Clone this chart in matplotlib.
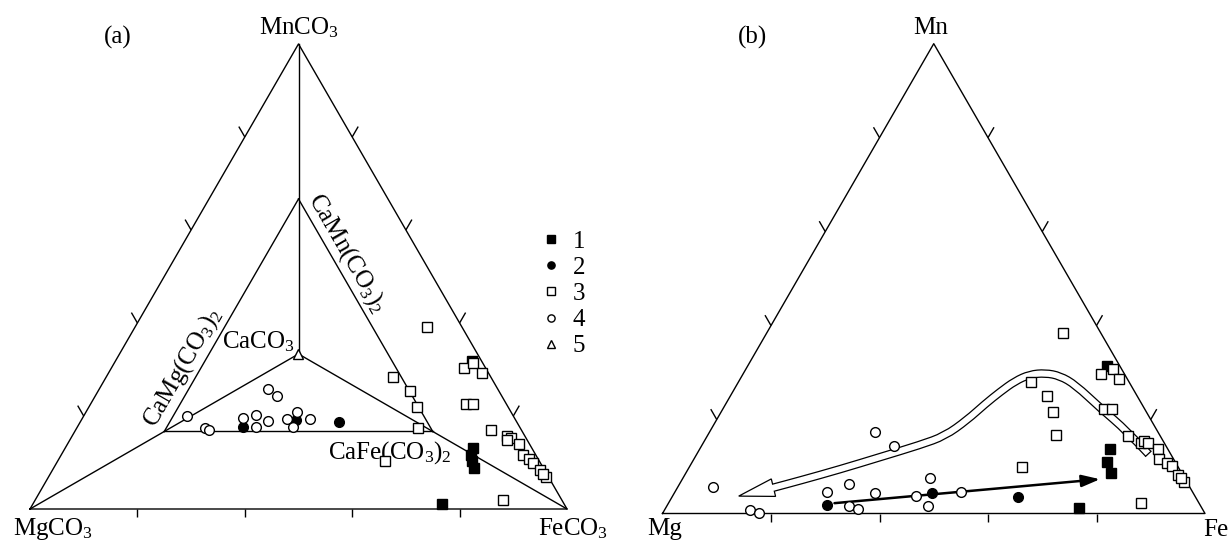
import numpy as np
import matplotlib
matplotlib.use("Agg")
import matplotlib.pyplot as plt
from matplotlib.path import Path
from matplotlib.patches import PathPatch, Polygon
from matplotlib.lines import Line2D

plt.rcParams['font.family'] = ['Liberation Serif', 'DejaVu Serif']
plt.rcParams['mathtext.fontset'] = 'custom'
plt.rcParams['mathtext.rm'] = 'Liberation Serif'
plt.rcParams['mathtext.it'] = 'Liberation Serif:italic'
plt.rcParams['mathtext.bf'] = 'Liberation Serif:bold'

W_PX, H_PX = 1230, 542
R3 = np.sqrt(3) / 2
TICKS = [0.2, 0.4, 0.6, 0.8]
LEGEND_LABELS = ['1', '2', '3', '4', '5']

# compositions as (Fe, Mn) fractions, Mg = 1 - Fe - Mn
# (a) MgCO3 - FeCO3 - MnCO3, CaCO3 projected to the centre
a1_fe = [0.663, 0.759, 0.763, 0.772, 0.783, 0.761]
a1_mn = [0.319, 0.131, 0.116, 0.103, 0.088, 0.011]
a2_fe = [0.309, 0.400, 0.482]
a2_mn = [0.176, 0.191, 0.187]
a3_fe = [0.543, 0.534, 0.580, 0.611, 0.636, 0.610, 0.657, 0.669, 0.695, 0.699, 0.713, 0.774,
         0.809, 0.820, 0.814, 0.841, 0.860, 0.876, 0.888, 0.907, 0.927, 0.918, 0.872]
a3_mn = [0.391, 0.283, 0.254, 0.220, 0.174, 0.103, 0.303, 0.313, 0.292, 0.225, 0.225, 0.170,
         0.158, 0.153, 0.148, 0.139, 0.116, 0.108, 0.098, 0.084, 0.068, 0.075, 0.019]
a4_fe = [0.192, 0.238, 0.249, 0.314, 0.338, 0.299, 0.320, 0.332, 0.348, 0.381, 0.392, 0.401, 0.424]
a4_mn = [0.200, 0.174, 0.170, 0.258, 0.244, 0.196, 0.202, 0.177, 0.190, 0.194, 0.209, 0.177, 0.194]
a5_fe = [0.333]
a5_mn = [0.333]

# (b) Mg - Fe - Mn
b1_fe = [0.663, 0.757, 0.764, 0.783, 0.762]
b1_mn = [0.314, 0.137, 0.110, 0.086, 0.012]
b2_fe = [0.294, 0.474, 0.637]
b2_mn = [0.018, 0.044, 0.035]
b3_fe = [0.546, 0.659, 0.676, 0.698, 0.539, 0.584, 0.613, 0.641, 0.703, 0.718, 0.776, 0.806,
         0.810, 0.821, 0.845, 0.858, 0.876, 0.888, 0.910, 0.929, 0.918, 0.613, 0.871]
b3_mn = [0.385, 0.297, 0.307, 0.286, 0.279, 0.251, 0.215, 0.167, 0.222, 0.222, 0.165, 0.151,
         0.154, 0.149, 0.137, 0.115, 0.107, 0.101, 0.082, 0.066, 0.076, 0.100, 0.022]
b4_fe = [0.064, 0.158, 0.177, 0.280, 0.313, 0.337, 0.355, 0.371, 0.305, 0.355, 0.448, 0.456, 0.481, 0.527]
b4_mn = [0.057, 0.008, 0.002, 0.045, 0.062, 0.015, 0.009, 0.043, 0.174, 0.144, 0.038, 0.075, 0.016, 0.046]

# trends in (b)
trend_fe = [0.306, 0.770]
trend_mn = [0.022, 0.073]
hollow_fe = [0.832, 0.768, 0.694, 0.624, 0.586, 0.556, 0.529, 0.509, 0.493, 0.478, 0.462,
             0.438, 0.402, 0.341, 0.280, 0.218, 0.177, 0.122]
hollow_mn = [0.127, 0.176, 0.225, 0.274, 0.293, 0.299, 0.296, 0.282, 0.259, 0.233, 0.199,
             0.165, 0.146, 0.120, 0.094, 0.070, 0.055, 0.037]

STYLE = {1: dict(marker='s', mfc='k'), 2: dict(marker='o', mfc='k'),
         3: dict(marker='s', mfc='w'), 4: dict(marker='o', mfc='w'),
         5: dict(marker='^', mfc='w')}


def tern(fe, mn):
    fe = np.asarray(fe, dtype=float)
    mn = np.asarray(mn, dtype=float)
    return fe + mn / 2, mn * R3


def make_axes(fig, rect, x0, y0, scale):
    # x0, y0: pixel position (from top-left) of the Mg corner, scale: px per side
    ax = fig.add_axes(rect)
    left = rect[0] * W_PX
    ax.set_xlim(-(x0 - left) / scale, (left + rect[2] * W_PX - x0) / scale)
    ax.set_ylim(-(H_PX - y0) / scale, y0 / scale)
    ax.axis('off')
    return ax


def frame(ax, px):
    tri = np.array([tern(0, 0), tern(1, 0), tern(0, 1), tern(0, 0)])
    ax.plot(tri[:, 0], tri[:, 1], color='k', lw=1.0, zorder=1)
    kw = dict(color='k', lw=1.0, zorder=1, solid_capstyle='butt', clip_on=False)
    for t in TICKS:
        bx, by = tern(t, 0)
        ax.plot([bx, bx], [by, by - 8 * px], **kw)
        lx, ly = tern(0, t)
        ax.plot([lx, lx - 0.5 * 12 * px], [ly, ly + R3 * 12 * px], **kw)
        rx, ry = tern(1 - t, t)
        ax.plot([rx, rx + 0.5 * 12 * px], [ry, ry + R3 * 12 * px], **kw)


def points(ax, fe, mn, kind, z):
    x, y = tern(fe, mn)
    ax.plot(x, y, ls='none', ms=7.0, mec='k', mew=1.0, zorder=z, clip_on=False, **STYLE[kind])


def smooth_path(p, extra=None):
    verts = [p[0]]
    codes = [Path.MOVETO]
    for i in range(1, len(p) - 1):
        verts += [p[i], (p[i] + p[i + 1]) / 2]
        codes += [Path.CURVE3, Path.CURVE3]
    verts.append(p[-1])
    codes.append(Path.LINETO)
    if extra is not None:
        verts.append(extra)
        codes.append(Path.LINETO)
    return Path(verts, codes)


def hollow_arrow(ax, fe, mn, px):
    x, y = tern(fe, mn)
    p = np.column_stack([x, y])
    tip, base = p[-1], p[-2]
    shaft = p[:-1]
    u = (tip - base) / np.hypot(*(tip - base))
    n = np.array([-u[1], u[0]])
    outer, inner = 8.5, 6.0
    ax.add_patch(PathPatch(smooth_path(shaft), fill=False, lw=outer * 0.72, ec='k',
                           capstyle='butt', joinstyle='round', zorder=2))
    head = [tip, base + n * 9 * px, base - n * 9 * px]
    ax.add_patch(Polygon(head, closed=True, fc='w', ec='k', lw=0.9, zorder=3))
    ax.add_patch(PathPatch(smooth_path(shaft, base + u * 2 * px), fill=False, lw=inner * 0.72,
                           ec='w', capstyle='butt', joinstyle='round', zorder=4))
    v = (p[1] - p[0]) / np.hypot(*(p[1] - p[0]))
    m = np.array([-v[1], v[0]])
    seg = np.array([p[0] + m * outer / 2 * px, p[0] - m * outer / 2 * px])
    ax.plot(seg[:, 0], seg[:, 1], color='k', lw=0.9, solid_capstyle='butt', zorder=4)


def label(ax, s, fe, mn, dx, dy, ha='center', va='baseline', **kw):
    ax.annotate(s, tern(fe, mn), xytext=(dx, dy), textcoords='offset pixels',
                ha=ha, va=va, fontsize=18, **kw)


fig = plt.figure(figsize=(12.3, 5.42), dpi=100)

# ---------------- (a) ----------------
pa = 1 / 537
ax = make_axes(fig, [0, 0, 0.5, 1], 30, 509, 537)
frame(ax, pa)

C = np.array(tern(1 / 3, 1 / 3))
Dm = np.array(tern(1 / 6, 1 / 6))
An = np.array(tern(2 / 3, 1 / 6))
Ku = np.array(tern(1 / 6, 2 / 3))
Vmg, Vfe, Vmn = np.array(tern(0, 0)), np.array(tern(1, 0)), np.array(tern(0, 1))
for p, q in [(Vmg, Dm), (Vfe, An), (Vmn, C), (Dm, Ku), (Ku, An), (Dm, An), (C, Dm), (C, An)]:
    ax.plot([p[0], q[0]], [p[1], q[1]], color='k', lw=1.0, zorder=1)

points(ax, a1_fe, a1_mn, 1, 5)
points(ax, a2_fe, a2_mn, 2, 6)
points(ax, a3_fe, a3_mn, 3, 7)
points(ax, a4_fe, a4_mn, 4, 8)
points(ax, a5_fe, a5_mn, 5, 9)

label(ax, 'MnCO$_3$', 0, 1, 0, 10)
label(ax, 'MgCO$_3$', 0, 0, 23, -26)
label(ax, 'FeCO$_3$', 1, 0, 6, -26)
label(ax, 'CaCO$_3$', a5_fe[0], a5_mn[0], -3, 6, ha='right')
label(ax, 'CaFe(CO$_3$)$_2$', 0.617, 0.1075, 0, 0)
label(ax, 'CaMg(CO$_3$)$_2$', 0.132, 0.304, 0, 0, va='center', rotation=60, rotation_mode='anchor')
label(ax, 'CaMn(CO$_3$)$_2$', 0.316, 0.550, 0, 0, va='center', rotation=-60, rotation_mode='anchor')
ax.text(0.192, 0.931, '(a)', transform=ax.transAxes, ha='center', va='center', fontsize=18)

handles = [Line2D([], [], ls='none', ms=5.2, mec='k', mew=1.0, **STYLE[k]) for k in range(1, 6)]
ax.legend(handles, LEGEND_LABELS, loc='upper left', bbox_to_anchor=(539 / W_PX, 1 - 230 / H_PX),
          bbox_transform=fig.transFigure, frameon=False, fontsize=18, handlelength=0.95,
          handletextpad=0.4, labelspacing=0.15, borderpad=0, borderaxespad=0)

# ---------------- (b) ----------------
pb = 1 / 542.5
bx = make_axes(fig, [0.5, 0, 0.5, 1], 662.5, 513.5, 542.5)
frame(bx, pb)

hollow_arrow(bx, hollow_fe, hollow_mn, pb)
bx.annotate('', xy=tern(trend_fe[1], trend_mn[1]), xytext=tern(trend_fe[0], trend_mn[0]),
            arrowprops=dict(arrowstyle='-|>,head_length=0.55,head_width=0.18', mutation_scale=20,
                            lw=1.8, color='k', shrinkA=0, shrinkB=0), zorder=3)

points(bx, b1_fe, b1_mn, 1, 5)
points(bx, b2_fe, b2_mn, 2, 6)
points(bx, b3_fe, b3_mn, 3, 7)
points(bx, b4_fe, b4_mn, 4, 8)

label(bx, 'Mn', 0, 1, -3, 10)
label(bx, 'Mg', 0, 0, 2, -22)
label(bx, 'Fe', 1, 0, -2, -22, ha='left')
bx.text(0.2239, 0.931, '(b)', transform=bx.transAxes, ha='center', va='center', fontsize=18)

fig.savefig('out.png', dpi=100, facecolor='white')
